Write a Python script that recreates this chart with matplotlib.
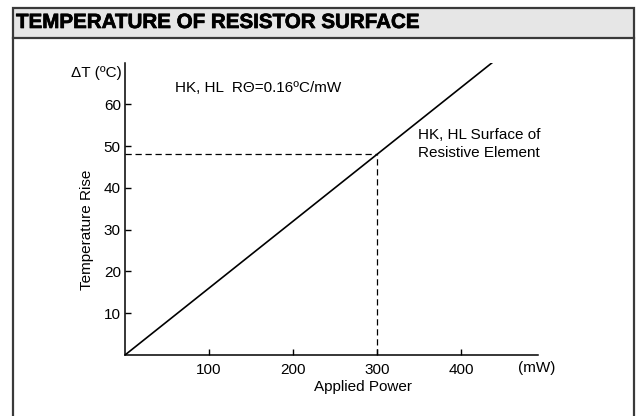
import matplotlib
matplotlib.use("Agg")
import matplotlib.pyplot as plt
from matplotlib.patches import Rectangle
from matplotlib.lines import Line2D
import matplotlib.patheffects as pe

plt.rcParams['font.family'] = ['Liberation Sans', 'DejaVu Sans']

# Data
power_line = [0, 437.5]          # mW
temp_line = [0, 70]              # °C  (0.16 °C/mW)
ref_power = 300
ref_temp = 48
x_ticks = [100, 200, 300, 400]
y_ticks = [10, 20, 30, 40, 50, 60]
title = "TEMPERATURE OF RESISTOR SURFACE"

W, H = 637, 416
fig = plt.figure(figsize=(W / 100, H / 100), dpi=100)

def fx(px):
    return px / W

def fy(py):
    return 1 - py / H

# Frame and title band
frame_col = '#3a3a3a'
fig.patches.append(Rectangle((fx(13), fy(38)), fx(634) - fx(13), fy(8) - fy(38),
                             transform=fig.transFigure, facecolor='#e6e6e6',
                             edgecolor=frame_col, linewidth=1.6, zorder=0))
fig.lines.append(Line2D([fx(13), fx(13)], [fy(38), 0], transform=fig.transFigure,
                        color=frame_col, linewidth=1.6))
fig.lines.append(Line2D([fx(634), fx(634)], [fy(38), 0], transform=fig.transFigure,
                        color=frame_col, linewidth=1.6))
fig.text(fx(16), fy(22.5), title, fontsize=14.8, fontweight='bold', color='black',
         ha='left', va='center',
         path_effects=[pe.withStroke(linewidth=0.5, foreground='black')])

FS = 11

# Axes
x0, x1 = 125, 538
y0, y1 = 355, 63
ax = fig.add_axes([fx(x0), fy(y0), fx(x1) - fx(x0), fy(y1) - fy(y0)])
ax.set_xlim(0, (x1 - x0) / 0.84)
ax.set_ylim(0, (y0 - y1) / 4.18)
for s in ['top', 'right']:
    ax.spines[s].set_visible(False)
for s in ['left', 'bottom']:
    ax.spines[s].set_linewidth(1.1)
ax.set_xticks(x_ticks)
ax.set_yticks(y_ticks)
ax.tick_params(direction='in', length=4, width=1, labelsize=FS, pad=6)
ax.tick_params(axis='y', pad=3)

ax.plot(power_line, temp_line, color='black', linewidth=1.2, solid_capstyle='butt')
ax.plot([0, ref_power], [ref_temp, ref_temp], color='black', linewidth=0.9,
        dashes=(5, 3))
ax.plot([ref_power, ref_power], [0, ref_temp], color='black', linewidth=0.9,
        dashes=(5, 3))

# Labels
fig.text(fx(122), fy(73), "ΔT (ºC)", fontsize=FS, ha='right', va='center')
fig.text(fx(537), fy(368), "(mW)", fontsize=FS, ha='center', va='center')
fig.text(fx(363), fy(387), "Applied Power", fontsize=FS, ha='center', va='center')
fig.text(fx(87), fy(230), "Temperature Rise", fontsize=FS, ha='center', va='center',
         rotation=90)
fig.text(fx(175), fy(88), "HK, HL  RΘ=0.16ºC/mW", fontsize=FS, ha='left', va='center')
fig.text(fx(418), fy(135), "HK, HL Surface of", fontsize=FS, ha='left', va='center')
fig.text(fx(418), fy(153), "Resistive Element", fontsize=FS, ha='left', va='center')

fig.savefig("out.png", dpi=100)
